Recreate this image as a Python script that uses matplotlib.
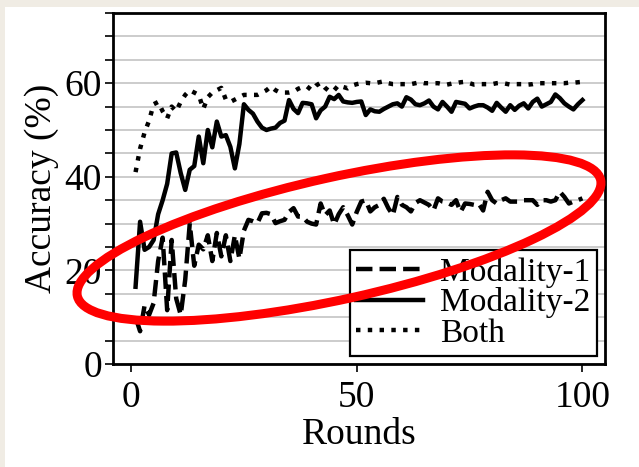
import matplotlib
matplotlib.use("Agg")
import matplotlib.pyplot as plt
from matplotlib.patches import Ellipse, Rectangle

plt.rcParams['font.family'] = ['Liberation Serif', 'DejaVu Serif']

rounds = list(range(1, 101))

modality_1 = [10, 7, 12.5, 10.5, 13, 22, 27, 11.5, 26.5, 14,
              10.5, 18, 30, 21, 25.5, 24.5, 27.5, 22, 28, 23,
              27.5, 22, 27.5, 22.5, 28.5, 30.8, 30.5, 30.1, 32.2, 32.3,
              32, 30.1, 30.5, 30.8, 32.5, 33.3, 31.5, 31.5, 30.4, 30,
              29.8, 34.3, 31.8, 32.8, 29.8, 32, 33.5, 31.8, 29.8, 32.5,
              34.7, 35, 32.6, 33.5, 34, 35.3, 33.3, 31.8, 35.7, 34,
              33.5, 32.6, 34.4, 35, 34.5, 34, 32.8, 35.4, 34.7, 34.5,
              34, 35, 32.5, 34.3, 34.2, 34, 34.3, 32.8, 36.8, 35,
              34.3, 35, 35.4, 34.7, 34.7, 34.7, 35, 35, 35, 34,
              35, 35, 34.7, 35, 36.8, 35.7, 34.3, 34.7, 35, 35.4]

modality_2 = [16.5, 30.4, 24.4, 25, 26.5, 32, 35, 38.5, 45, 45.2,
              40.8, 37.2, 41.5, 42.3, 48.6, 42.9, 50, 46.3, 51.8, 48.6,
              48.9, 46.4, 41.8, 47, 55.5, 54.3, 53.5, 51.8, 50.5, 50,
              50.3, 50.5, 51.5, 52, 56.4, 54.5, 53.6, 55.8, 55.7, 55.5,
              52.5, 54.2, 55, 57.1, 56.6, 57.5, 56.1, 55.9, 55.8, 56,
              56.1, 53.2, 54.4, 54, 53.9, 54.5, 55, 55.5, 55.7, 55,
              57, 56.5, 55.5, 55.3, 55.7, 56.3, 55, 54.4, 56, 55,
              53.9, 56, 55.8, 55.6, 54.6, 55, 55.3, 55.3, 54.8, 54.1,
              55.8, 54.8, 53.9, 55.3, 54.3, 55.2, 55.7, 54.6, 56, 56.7,
              55, 55.5, 56, 57.6, 56.8, 55.7, 55, 54.4, 55.5, 56.4]

both = [41, 46, 49.5, 52, 55.5, 56, 54, 52.5, 55, 54,
        56, 57.5, 58.5, 58, 57.5, 54.5, 57, 58, 58.5, 59,
        56.5, 56, 56.5, 57, 57.5, 57.5, 57.5, 57.5, 58, 58.5,
        59.3, 58.5, 58, 58, 58, 58.2, 58.8, 59.2, 59.3, 58.5,
        59.5, 60.1, 59, 58.2, 58.5, 59.6, 59.2, 58.9, 59.5, 59.8,
        60, 60.1, 60, 60, 60.2, 60.4, 60, 59.8, 59.8, 59.8,
        59.8, 59.8, 60, 60.2, 60, 60, 60, 60, 59.8, 59.7,
        59.9, 60, 60.2, 60.3, 60, 59.7, 59.8, 59.8, 59.8, 59.8,
        60, 60.1, 59.9, 59.7, 59.8, 59.8, 59.8, 59.7, 59.8, 60,
        60, 60, 60, 60, 60, 60, 60.1, 60.1, 60.2, 60.3]

labels = ["Modality-1", "Modality-2", "Both"]

fig = plt.figure(figsize=(6.39, 4.67), dpi=100)
fig.patch.set_facecolor("white")
# beige slide strips on the left and top
fig.patches.append(Rectangle((0, 0), 5 / 639, 1, transform=fig.transFigure,
                             facecolor="#f0ece4", edgecolor="none", zorder=-5))
fig.patches.append(Rectangle((0, 1 - 7 / 467), 1, 7 / 467, transform=fig.transFigure,
                             facecolor="#f0ece4", edgecolor="none", zorder=-5))

ax = fig.add_axes([113 / 639, 1 - 364 / 467, (605 - 113) / 639, (364 - 13) / 467])
ax.plot(rounds, modality_1, color="black", lw=3.2, ls="--", label=labels[0])
ax.plot(rounds, modality_2, color="black", lw=3.2, ls="-", label=labels[1])
ax.plot(rounds, both, color="black", lw=3.2, ls=":", label=labels[2])

ax.set_xlim(-4, 105)
ax.set_ylim(0, 75)
ax.set_xticks([0, 50, 100])
ax.set_yticks([0, 20, 40, 60])
ax.set_yticks(range(0, 76, 5), minor=True)
ax.yaxis.grid(True, which="both", color="#c4c4c4", lw=1.2)
ax.set_axisbelow(True)
ax.tick_params(axis="both", which="both", direction="out", length=6, width=1.2,
               labelsize=27, pad=2)
ax.tick_params(axis="x", pad=6)
for s in ax.spines.values():
    s.set_linewidth(2.0)

ax.set_xlabel("Rounds", fontsize=27, labelpad=2)
ax.set_ylabel("Accuracy (%)", fontsize=27, labelpad=4)

leg = ax.legend(loc="lower right", fontsize=24, frameon=True, fancybox=False,
                edgecolor="black", framealpha=1, borderpad=0.2, labelspacing=0.0,
                handlelength=2.0, handletextpad=0.5, borderaxespad=0.25)
leg.get_frame().set_linewidth(1.6)

# red highlight ellipse drawn in pixel space
over = fig.add_axes([0, 0, 1, 1], facecolor="none")
over.set_xlim(0, 639)
over.set_ylim(467, 0)
over.axis("off")
over.add_patch(Ellipse((339, 238), width=536, height=122, angle=-12.5,
                       fill=False, edgecolor="#ff0000", lw=6.5))

fig.savefig("out.png", dpi=100, facecolor=fig.get_facecolor())
